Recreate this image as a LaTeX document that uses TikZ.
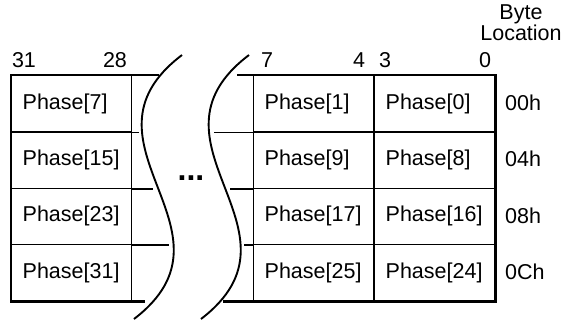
\documentclass[tikz,border=0pt]{standalone}
\usepackage{fontspec}
\setmainfont{Liberation Sans}
\usetikzlibrary{positioning}

\begin{document}
\begin{tikzpicture}[x=1pt,y=-1pt,
  cell/.style={draw,line width=1.4pt,minimum height=56.25pt,text width=98pt,
    inner xsep=11pt,inner ysep=0pt,align=left,anchor=north west,
    font=\fontsize{21.5}{22}\selectfont},
  lbl/.style={font=\fontsize{21.5}{21}\selectfont,inner sep=0pt},
  border/.style={line width=2.8pt},
  wave/.style={line width=1.9pt}]
  \useasboundingbox (0,0) rectangle (566,322);
  % the four dword rows
  \foreach \i/\a/\b/\c/\adr in {0/7/1/0/00h,1/15/9/8/04h,2/23/17/16/08h,3/31/25/24/0Ch} {
    \node[cell] (l\i) at (11,75+56.25*\i) {Phase[\a]};
    \node[cell] (m\i) at (253,75+56.25*\i) {Phase[\b]};
    \node[cell] (r\i) at (374,75+56.25*\i) {Phase[\c]};
    \node[lbl,anchor=west] (a\i) at (505,103+56.25*\i) {\adr};
  }
  \foreach \x/\n in {24/31,115/28,267/7,359/4,385/3,485/0}
    \node[lbl] (b\n) at (\x,60) {\n};
  \node[lbl,align=center] (loc) at (521,23) {Byte\\Location};
  % row lines running out to the break
  \draw[line width=1.4pt] (l0.south east) -- ++(7,0);
  \draw[line width=1.4pt] (l1.south east) -- ++(21,0);
  \draw[line width=1.4pt] (l2.south east) -- ++(37,0);
  \draw[line width=1.4pt] (m0.south west) -- ++(-39,0);
  \draw[line width=1.4pt] (m1.south west) -- ++(-23,0);
  \draw[line width=1.4pt] (m2.south west) -- ++(-9,0);
  \draw[border] (l0.north east) ++(27,0) -- (l0.north west) -- (l3.south west) -- ++(134,0);
  \draw[border] (m0.north west) ++(-16,0) -- (r0.north east) -- (r3.south east) -- (m3.south west) -- ++(-30,0);
  \foreach \dx in {0,67}
    \draw[wave] (182+\dx,55) .. controls (66+\dx,143) and (249+\dx,231) .. (134+\dx,319);
  \node[font=\fontsize{32}{34}\selectfont\bfseries] (gap) at (191,178) {...};
\end{tikzpicture}
\end{document}
